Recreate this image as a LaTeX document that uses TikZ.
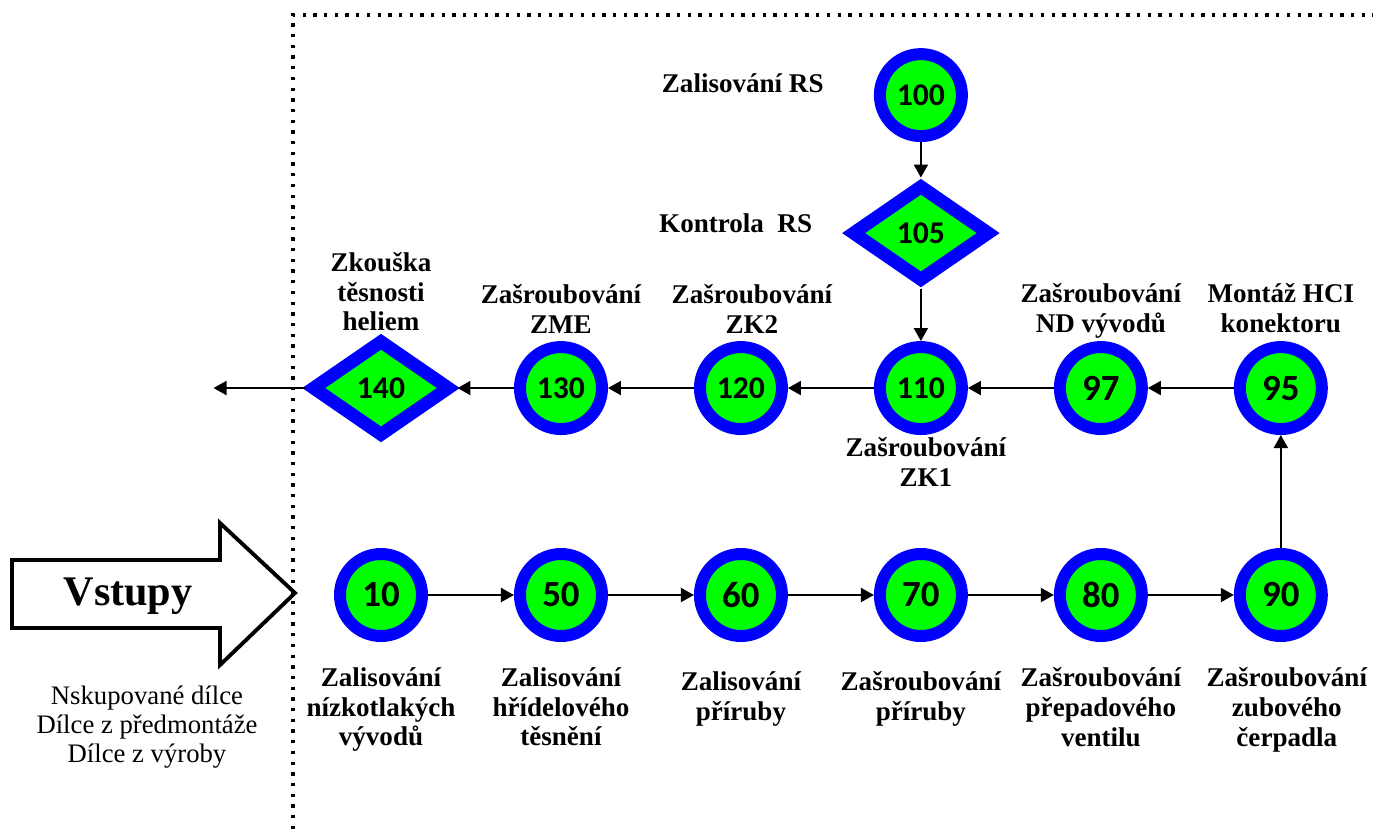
\documentclass[tikz,border=0pt]{standalone}
\usepackage{fontspec}
\setmainfont{Liberation Serif}
\newfontfamily\numfont{Carlito}
\usetikzlibrary{arrows.meta,positioning,shapes.geometric}
\definecolor{ringblue}{HTML}{0000FF}
\definecolor{opgreen}{HTML}{00FF00}
\tikzset{
  opcircle/.style={circle,draw=ringblue,fill=opgreen,line width=0.24cm,minimum size=1.64cm,
    inner sep=0pt,on grid,font=\numfont\bfseries\fontsize{21}{25}\selectfont},
  opdiamond/.style={diamond,draw=ringblue,fill=opgreen,line width=0.26cm,aspect=1.43,
    minimum width=2.8cm,minimum height=1.96cm,inner sep=0pt,on grid,
    font=\numfont\bfseries\fontsize{18}{21}\selectfont},
  longnum/.style={font=\numfont\bfseries\fontsize{18}{21}\selectfont},
  oplabel/.style={align=center,inner sep=0pt,font=\bfseries\fontsize{15.4}{17}\selectfont},
  flow/.style={-{Triangle[length=0.26cm,width=0.28cm]},draw=black,line width=1.1pt},
  frameline/.style={line width=2pt,dash pattern=on 0.066cm off 0.148cm}
}
\begin{document}
\begin{tikzpicture}[x=0.02cm,y=-0.02cm,node distance=3.6cm]
\useasboundingbox (0,0) rectangle (1373,829);
% hranice pracoviste
\draw[frameline] (293,829) -- (293,15) -- (1373,15);
% vstupy
\draw[line width=2.2pt] (12,560) -- (220,560) -- (220,523) -- (295,593) -- (220,665) -- (220,628) -- (12,628) -- cycle;
\node[font=\bfseries\fontsize{24}{28}\selectfont] (vstupy) at (128,596) {Vstupy};
\node[align=center,font=\fontsize{15.2}{16.5}\selectfont] (dilce) at (147,727) {Nskupované dílce\\Dílce z předmontáže\\Dílce z výroby};
% spodni rada operaci
\node[opcircle] (n10) at (381,595) {10};
\node[opcircle,right=of n10] (n50) {50};
\node[opcircle,right=of n50] (n60) {60};
\node[opcircle,right=of n60] (n70) {70};
\node[opcircle,right=of n70] (n80) {80};
\node[opcircle,right=of n80] (n90) {90};
% horni rada operaci
\node[opcircle,above=4.14cm of n90] (n95) {95};
\node[opcircle,left=of n95] (n97) {97};
\node[opcircle,longnum,left=of n97] (n110) {110};
\node[opcircle,longnum,left=of n110] (n120) {120};
\node[opcircle,longnum,left=of n120] (n130) {130};
\node[opdiamond,left=of n130] (n140) {140};
\node[opdiamond,above=3.1cm of n110] (n105) {105};
\node[opcircle,longnum,above=2.76cm of n105] (n100) {100};
\coordinate[left=1.82cm of n140] (vystup);
% popisky
\node[oplabel,left=1cm of n100,yshift=0.24cm] (l100) {Zalisování RS};
\node[oplabel,left=0.64cm of n105,yshift=0.2cm] (l105) {Kontrola\ \ RS};
\node[oplabel,above=0.02cm of n140] (l140) {Zkouška\\těsnosti\\heliem};
\node[oplabel,above=0.14cm of n130] (l130) {Zašroubování\\ZME};
\node[oplabel,above=0.14cm of n120,xshift=0.22cm] (l120) {Zašroubování\\ZK2};
\node[oplabel,below=0.05cm of n110,xshift=0.1cm] (l110) {Zašroubování\\ZK1};
\node[oplabel,above=0.04cm of n97] (l97) {Zašroubování\\ND vývodů};
\node[oplabel,above=0.16cm of n95] (l95) {Montáž HCI\\konektoru};
\node[oplabel,below=0.5cm of n10] (l10) {Zalisování\\nízkotlakých\\vývodů};
\node[oplabel,below=0.5cm of n50] (l50) {Zalisování\\hřídelového\\těsnění};
\node[oplabel,below=0.58cm of n60] (l60) {Zalisování\\příruby};
\node[oplabel,below=0.58cm of n70] (l70) {Zašroubování\\příruby};
\node[oplabel,below=0.5cm of n80] (l80) {Zašroubování\\přepadového\\ventilu};
\node[oplabel,below=0.5cm of n90,xshift=0.12cm] (l90) {Zašroubování\\zubového\\čerpadla};
% tok
\draw[flow] (n10) -- (n50);
\draw[flow] (n50) -- (n60);
\draw[flow] (n60) -- (n70);
\draw[flow] (n70) -- (n80);
\draw[flow] (n80) -- (n90);
\draw[flow] (n90) -- (n95);
\draw[flow] (n95) -- (n97);
\draw[flow] (n97) -- (n110);
\draw[flow] (n110) -- (n120);
\draw[flow] (n120) -- (n130);
\draw[flow] (n130) -- (n140);
\draw[flow] (n140) -- (vystup);
\draw[flow] (n100) -- (n105);
\draw[flow] (n105) -- (n110);
\end{tikzpicture}
\end{document}
